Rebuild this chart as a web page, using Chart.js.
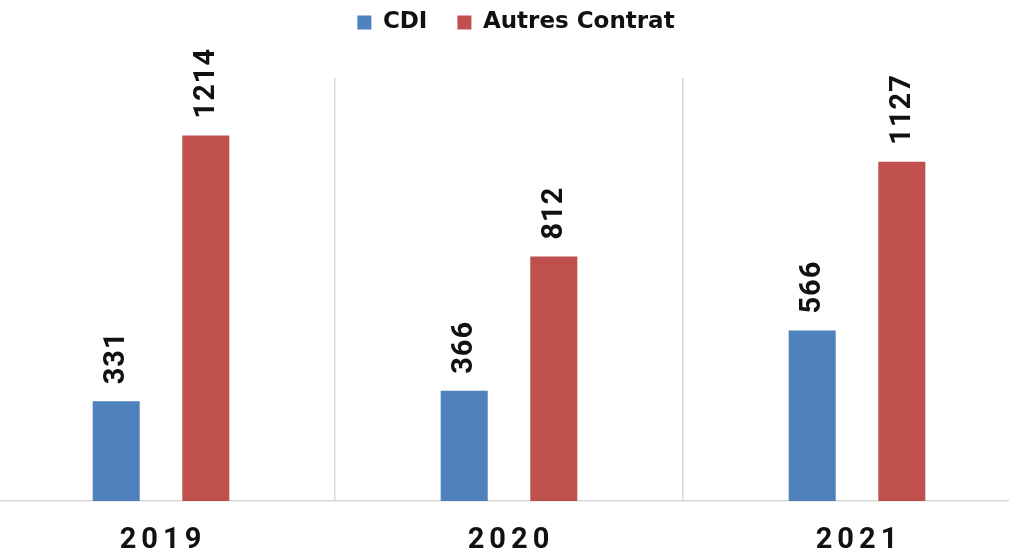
<!DOCTYPE html>
<html>
<head>
<meta charset="utf-8">
<script src="https://cdn.jsdelivr.net/npm/chart.js@4.4.1/dist/chart.umd.min.js"></script>
<style>
  html, body { margin: 0; padding: 0; background: #ffffff; overflow: hidden; }
  body { width: 1009px; height: 553px; position: relative; }
  #c { position: absolute; left: -13px; top: 0; }
</style>
</head>
<body>
<canvas id="c" width="1044" height="553"></canvas>
<script>
const categories = ['2019', '2020', '2021'];
const seriesNames = ['CDI', 'Autres Contrat'];
const cdiValues = [331, 366, 566];
const autresValues = [1214, 812, 1127];
const seriesColors = ['#4F81BD', '#C0504D'];

const LEGEND_HEIGHT_TARGET = 98;

const tweaks = {
  id: 'tweaks',
  beforeLayout(chart) {
    const lg = chart.legend;
    if (lg && !lg._wrappedFit) {
      const f = lg.fit;
      lg.fit = function () { f.call(this); this.height = LEGEND_HEIGHT_TARGET; };
      const dr = lg.draw;
      lg.draw = function (area) {
        const ctx = this.ctx;
        ctx.save();
        ctx.translate(7, 1);
        dr.call(this, area);
        ctx.restore();
      };
      lg._wrappedFit = true;
    }
  },
  afterLayout(chart) {
    const s = chart.scales.x;
    if (s && !s._wrappedLabels) {
      const d = s.drawLabels;
      s.drawLabels = function (area) {
        const ctx = this.ctx;
        ctx.save();
        ctx.letterSpacing = '5px';
        ctx.translate(2, 0);
        d.call(this, area);
        ctx.restore();
      };
      s._wrappedLabels = true;
    }
  },
  afterDatasetsDraw(chart) {
    const ctx = chart.ctx;
    chart.data.datasets.forEach((ds, i) => {
      const meta = chart.getDatasetMeta(i);
      meta.data.forEach((el, j) => {
        ctx.save();
        ctx.translate(el.x, el.y - 17);
        ctx.rotate(-Math.PI / 2);
        ctx.font = 'bold 29px Roboto';
        ctx.letterSpacing = '1px';
        ctx.fillStyle = '#111111';
        ctx.textAlign = 'left';
        ctx.textBaseline = 'middle';
        ctx.fillText(String(ds.data[j]), 0, 1);
        ctx.restore();
      });
    });
  }
};

new Chart(document.getElementById('c'), {
  type: 'bar',
  data: {
    labels: categories,
    datasets: [
      { label: seriesNames[0], data: cdiValues, backgroundColor: seriesColors[0], borderWidth: 0 },
      { label: seriesNames[1], data: autresValues, backgroundColor: seriesColors[1], borderWidth: 0 }
    ]
  },
  options: {
    responsive: false,
    animation: false,
    devicePixelRatio: 1,
    categoryPercentage: 0.515,
    barPercentage: 0.525,
    layout: { padding: { top: -20, bottom: -27, left: 0, right: 0 } },
    plugins: {
      legend: {
        display: true,
        position: 'top',
        labels: {
          boxWidth: 14,
          boxHeight: 14,
          padding: 30,
          color: '#111111',
          font: { family: 'DejaVu Sans', weight: 'bold', size: 23 }
        }
      },
      tooltip: { enabled: false }
    },
    scales: {
      x: {
        grid: {
          display: true,
          offset: true,
          drawTicks: false,
          color: '#D9D9D9',
          lineWidth: 1.5
        },
        border: { display: true, color: '#D9D9D9', width: 1.5 },
        ticks: {
          color: '#111111',
          padding: 25,
          font: { family: 'Roboto', weight: 'bold', size: 29, lineHeight: 1 }
        }
      },
      y: {
        display: false,
        min: 0,
        max: 1405
      }
    }
  },
  plugins: [tweaks]
});
</script>
</body>
</html>
